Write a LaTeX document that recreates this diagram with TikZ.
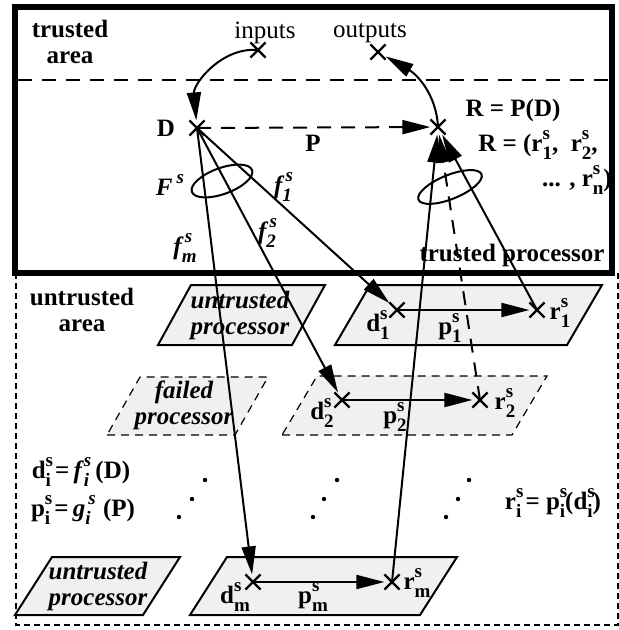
\documentclass[tikz,border=0pt]{standalone}
\usepackage{fontspec}
\setmainfont{Liberation Serif}
\usetikzlibrary{arrows.meta,shapes.misc,positioning}

\newcommand\scr[1]{{\fontsize{9.5}{9.5}\selectfont #1}}
\newcommand\sps[3]{#1\rlap{\raisebox{0.5em}{\scr{#2}}}\raisebox{-0.33em}{\scr{#3}}}

\begin{document}
\begin{tikzpicture}[x=0.5pt,y=-0.5pt,
  lbl/.style={font=\fontsize{12.5}{13}\selectfont\bfseries,inner sep=1pt,align=center},
  rlbl/.style={font=\fontsize{12.5}{13}\selectfont,inner sep=1pt},
  ilbl/.style={font=\fontsize{12.5}{13}\selectfont\bfseries\itshape,inner sep=1pt,align=center},
  xmark/.style={cross out,draw,line width=1.1pt,minimum size=6.5pt,inner sep=0pt},
  arr/.style={line width=1pt,-{Triangle[length=14pt,width=7pt]}},
  proc/.style={draw,line width=1pt,fill=black!6},
  failproc/.style={draw,line width=0.6pt,fill=black!6,dash pattern=on 4pt off 3pt}]
  \useasboundingbox (0,0) rectangle (619,630);

  % untrusted area
  \draw[line width=0.8pt,dash pattern=on 3pt off 2pt] (16,273) -- (16,625) -- (618,625) -- (618,273);

  % processors
  \draw[proc] (158,345) -- (292,345) -- (325,285) -- (191,285) -- cycle;
  \draw[proc] (335,345) -- (567,345) -- (602,285) -- (370,285) -- cycle;
  \draw[failproc] (107,435) -- (235,435) -- (268,377) -- (140,377) -- cycle;
  \draw[failproc] (282,435) -- (512,435) -- (547,376) -- (317,376) -- cycle;
  \draw[proc] (15,615) -- (143,615) -- (180,557) -- (52,557) -- cycle;
  \draw[proc] (190,615) -- (420,615) -- (457,557) -- (227,557) -- cycle;

  \node[ilbl] (up1) at (240,315) {untrusted\\processor};
  \node[ilbl] (fp) at (184,405) {failed\\processor};
  \node[ilbl] (up2) at (98,586) {untrusted\\processor};

  % trusted area
  \draw[line width=3pt] (15,7) rectangle (612,273);
  \draw[line width=0.8pt,dash pattern=on 7pt off 5pt] (18,80) -- (610,80);

  \node[lbl] (ta) at (70,42) {trusted\\area};
  \node[lbl] (ua) at (82,310) {untrusted\\area};
  \node[lbl] (tp) at (512,255) {trusted processor};

  % points
  \node[xmark] (inp) at (258,50) {};
  \node[xmark] (outp) at (378,52) {};
  \node[xmark] (D) at (197,128) {};
  \node[xmark] (R) at (438,127) {};
  \node[xmark] (d1) at (397,310) {};
  \node[xmark] (r1) at (537,310) {};
  \node[xmark] (d2) at (342,400) {};
  \node[xmark] (r2) at (480,400) {};
  \node[xmark] (dm) at (253,582) {};
  \node[xmark] (rm) at (392,582) {};

  \node[rlbl] (inl) at (265,33) {inputs};
  \node[rlbl] (outl) at (370,33) {outputs};
  \node[lbl] (Dl) at (166,128) {D};
  \node[lbl] (Pl) at (313,143) {P};
  \node[lbl] (RPD) at (513,110) {R = P(D)};
  \node[lbl] (Rset) at (538,145) {R = (\sps{r}{s}{1},\ \ \sps{r}{s}{2},};
  \node[lbl] (Rset2) at (577,180) {... , \sps{r}{s}{n})};

  \node[ilbl] (Fs) at (170,185) {F\,\raisebox{0.5em}{\scr{s}}};
  \node[ilbl] (f1) at (283,187) {\sps{f}{\,s}{1}};
  \node[ilbl] (f2) at (267,233) {\sps{f}{\,s}{2}};
  \node[ilbl] (fm) at (185,248) {\sps{f}{\,s}{m}};

  \node[lbl] (d1l) at (378,325) {\sps{d}{s}{1}};
  \node[lbl] (p1l) at (450,328) {\sps{p}{s}{1}};
  \node[lbl] (r1l) at (560,313) {\sps{r}{s}{1}};
  \node[lbl] (d2l) at (322,413) {\sps{d}{s}{2}};
  \node[lbl] (p2l) at (395,417) {\sps{p}{s}{2}};
  \node[lbl] (r2l) at (505,403) {\sps{r}{s}{2}};
  \node[lbl] (dml) at (235,597) {\sps{d}{s}{m}};
  \node[lbl] (pml) at (313,597) {\sps{p}{s}{m}};
  \node[lbl] (rml) at (417,583) {\sps{r}{s}{m}};

  \node[lbl] (eqd) at (81,472) {\sps{d}{s}{i}\,=\,\sps{\textit{f}}{\textit{s}}{\textit{i}} (D)};
  \node[lbl] (eqp) at (83,510) {\sps{p}{s}{i}\,=\,\sps{\textit{g}}{\textit{\,s}}{\textit{i}} \ (P)};
  \node[lbl] (eqr) at (553,503) {\sps{r}{s}{i}\,= \sps{p}{s}{i}(\sps{d}{s}{i})};

  % dots
  \foreach \x/\y in {205/480,192/499,179/517,337/480,324/499,313/517,469/480,458/499,446/517}
    \fill (\x,\y) circle (1.1pt);

  % ellipses
  \draw[line width=1pt,rotate around={20:(222,181)}] (222,181) ellipse [x radius=16pt,y radius=6.5pt];
  \draw[line width=1pt,rotate around={22:(450,187)}] (450,187) ellipse [x radius=17pt,y radius=6pt];

  % connectors
  \draw[arr] (inp.center) to[out=175,in=95] (D);
  \draw[arr] (R.center) to[out=93,in=-30] (outp);
  \draw[arr,dash pattern=on 7pt off 5pt] (D.center) -- (R);
  \draw[arr] (D.center) -- (d1);
  \draw[arr] (D.center) -- (d2);
  \draw[arr] (D.center) -- (dm);
  \draw[arr] (d1.center) -- (r1);
  \draw[arr] (d2.center) -- (r2);
  \draw[arr] (dm.center) -- (rm);
  \draw[arr] (r1.center) -- (R);
  \draw[arr,dash pattern=on 7pt off 5pt] (r2.center) -- (R);
  \draw[arr] (rm.center) -- (R);
\end{tikzpicture}
\end{document}
